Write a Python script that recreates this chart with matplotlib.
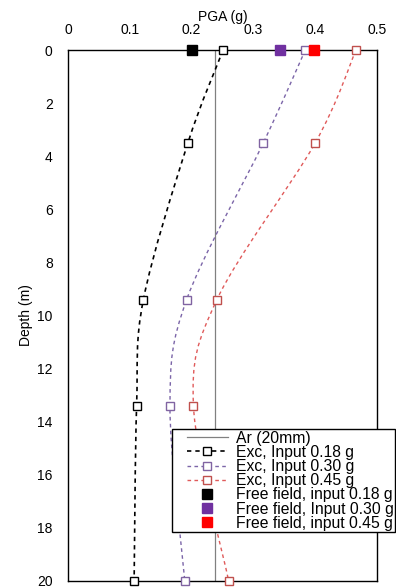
import matplotlib
matplotlib.use("Agg")
import matplotlib.pyplot as plt
from matplotlib.path import Path
from matplotlib.patches import PathPatch
from matplotlib.lines import Line2D
from matplotlib.legend_handler import HandlerLine2D
import numpy as np

plt.rcParams['font.family'] = ['Liberation Sans', 'DejaVu Sans']

depth = [0, 3.5, 9.4, 13.4, 20]
exc_018 = [0.251, 0.194, 0.122, 0.111, 0.107]
exc_030 = [0.384, 0.316, 0.192, 0.165, 0.189]
exc_045 = [0.466, 0.400, 0.241, 0.203, 0.260]
ff_vals = [0.200, 0.343, 0.398]
ff_depth = [0, 0, 0]
ar_value = 0.238
ar_depth = [0, 20]

fig = plt.figure(figsize=(3.96, 5.88), dpi=100)
ax = fig.add_axes([68/396, 1-581/588, (377-68)/396, (581-50)/588])


def smooth_path(xs, ys):
    pts = np.column_stack([xs, ys])
    verts = [tuple(pts[0])]
    codes = [Path.MOVETO]
    n = len(pts)
    for i in range(n - 1):
        p0 = pts[i - 1] if i > 0 else pts[i]
        p1 = pts[i]
        p2 = pts[i + 1]
        p3 = pts[i + 2] if i + 2 < n else pts[i + 1]
        c1 = p1 + (p2 - p0) / 6.0
        c2 = p2 - (p3 - p1) / 6.0
        verts += [tuple(c1), tuple(c2), tuple(p2)]
        codes += [Path.CURVE4] * 3
    return Path(verts, codes)


series = [
    (exc_018, '#000000', '#000000', 1.2, 'Exc, Input 0.18 g'),
    (exc_030, '#7b65a8', '#8064a2', 1.0, 'Exc, Input 0.30 g'),
    (exc_045, '#e05a5a', '#c0504d', 1.0, 'Exc, Input 0.45 g'),
]

ax.plot([ar_value, ar_value], ar_depth, color='#808080', lw=0.9, zorder=2)

handles = [Line2D([], [], color='#808080', lw=0.9, label='Ar (20mm)')]
for vals, lc, mc, lw, lab in series:
    p = smooth_path(vals, depth)
    patch = PathPatch(p, facecolor='none', edgecolor=lc, lw=lw,
                      linestyle=(0, (2.6, 2.4)), zorder=3)
    ax.add_patch(patch)
    ax.plot(vals, depth, linestyle='none', marker='s', markersize=5.5,
            markerfacecolor='white', markeredgecolor=mc, markeredgewidth=1.0,
            zorder=5, clip_on=False)
    handles.append(Line2D([], [], color=lc, lw=lw, linestyle=(0, (2.6, 2.4)),
                          marker='s', markersize=5.5, markerfacecolor='white',
                          markeredgecolor=mc, markeredgewidth=1.0, label=lab))

ff_colors = ['#000000', '#7030a0', '#ff0000']
ff_labels = ['Free field, input 0.18 g', 'Free field, Input 0.30 g',
             'Free field, input 0.45 g']
for v, d, c, lab in zip(ff_vals, ff_depth, ff_colors, ff_labels):
    ax.plot([v], [d], linestyle='none', marker='s', markersize=6.5,
            color=c, zorder=6, clip_on=False)
    handles.append(Line2D([], [], linestyle='none', marker='s', markersize=6.5,
                          color=c, label=lab))

ax.set_xlim(0, 0.5)
ax.set_ylim(20, 0)
ax.set_xticks([0, 0.1, 0.2, 0.3, 0.4, 0.5])
ax.set_xticklabels(['0', '0.1', '0.2', '0.3', '0.4', '0.5'])
ax.set_yticks(range(0, 21, 2))
ax.xaxis.tick_top()
ax.xaxis.set_label_position('top')
ax.tick_params(axis='x', length=0, labelsize=10, pad=9)
ax.tick_params(axis='y', length=0, labelsize=10, pad=11)
ax.set_xlabel('PGA (g)', fontsize=10, labelpad=2)
ax.set_ylabel('Depth (m)', fontsize=10, labelpad=3)
for s in ax.spines.values():
    s.set_linewidth(1.0)
    s.set_color('#000000')

leg = fig.legend(handles=handles, loc='upper left',
                 bbox_to_anchor=(172/396, 1-429/588), fontsize=11.3,
                 frameon=True, fancybox=False, edgecolor='#000000',
                 framealpha=1, borderpad=0.1, labelspacing=-0.05,
                 handlelength=3.46, handletextpad=0.5, borderaxespad=0,
                 handler_map={Line2D: HandlerLine2D(xpad=0.86)})
leg.get_frame().set_linewidth(1.0)

fig.savefig('out.png', dpi=100)
